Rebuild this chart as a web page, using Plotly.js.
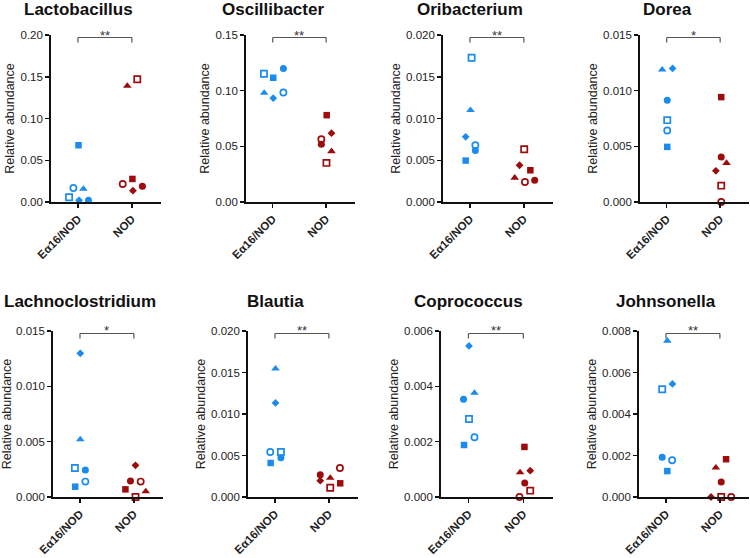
<!DOCTYPE html>
<html><head><meta charset="utf-8">
<script src="https://cdn.plot.ly/plotly-3.0.1.min.js"></script>
<style>html,body{margin:0;padding:0;background:#fff}#chart{width:750px;height:558px}</style>
</head><body><div id="chart"></div>
<script>
// Group labels
const groups = ['Eα16/NOD', 'NOD'];
const genera = ['Lactobacillus', 'Oscillibacter', 'Oribacterium', 'Dorea',
                'Lachnoclostridium', 'Blautia', 'Coprococcus', 'Johnsonella'];
const significance = ['**', '**', '**', '*', '*', '**', '**', '**'];
const yMax = [0.20, 0.15, 0.020, 0.015, 0.015, 0.020, 0.006, 0.008];
const yStep = [0.05, 0.05, 0.005, 0.005, 0.005, 0.005, 0.002, 0.002];
const yFormat = ['.2f', '.2f', '.3f', '.3f', '.3f', '.3f', '.3f', '.3f'];

// Order of each value array: filled square, filled circle, filled triangle,
// filled diamond, open circle, open square (one mouse each)
const lactobacillusE = [0.068, 0.002, 0.0156, 0.002, 0.0168, 0.0056];
const lactobacillusN = [0.0276, 0.019, 0.139, 0.0136, 0.0216, 0.147];
const oscillibacterE = [0.1116, 0.120, 0.098, 0.0933, 0.0984, 0.1152];
const oscillibacterN = [0.078, 0.0519, 0.0455, 0.0618, 0.0564, 0.0351];
const oribacteriumE = [0.00496, 0.00616, 0.011, 0.0078, 0.0068, 0.01728];
const oribacteriumN = [0.0038, 0.0026, 0.0029, 0.0044, 0.0024, 0.00632];
const doreaE = [0.00495, 0.00915, 0.01188, 0.012, 0.00642, 0.00735];
const doreaN = [0.00942, 0.00405, 0.0035, 0.0028, 0.0, 0.00147];
const lachnoclostridiumE = [0.00093, 0.00244, 0.0052, 0.01298, 0.00139, 0.00262];
const lachnoclostridiumN = [0.00069, 0.00145, 0.0005, 0.00286, 0.00139, 0.0];
const blautiaE = [0.0041, 0.00474, 0.01546, 0.01133, 0.00542, 0.00542];
const blautiaN = [0.00165, 0.00269, 0.0023, 0.00197, 0.0035, 0.00112];
const coprococcusE = [0.00188, 0.00353, 0.00376, 0.00546, 0.00216, 0.00282];
const coprococcusN = [0.00181, 0.00051, 0.00089, 0.00095, 0.0, 0.00023];
const johnsonellaE = [0.00125, 0.00191, 0.00753, 0.00545, 0.00177, 0.00519];
const johnsonellaN = [0.00182, 0.00072, 0.00141, 0.0, 0.0, 0.0];

// Horizontal scatter offsets of each dot (fraction of the group spacing)
const lactobacillusJE = [0.01, 0.195, 0.10, 0.02, -0.085, -0.165];
const lactobacillusJN = [0.01, 0.195, -0.085, 0.02, -0.17, 0.10];
const oscillibacterJE = [0.01, 0.20, -0.16, 0.01, 0.20, -0.164];
const oscillibacterJN = [0.01, -0.09, 0.10, 0.10, -0.09, 0.006];
const oribacteriumJE = [-0.08, 0.10, 0.01, -0.08, 0.10, 0.03];
const oribacteriumJN = [0.12, 0.20, -0.17, -0.08, 0.02, 0.006];
const doreaJE = [0.01, 0.01, -0.085, 0.11, 0.01, 0.01];
const doreaJN = [0.02, 0.02, 0.12, -0.08, 0.02, 0.02];
const lachnoclostridiumJE = [-0.088, 0.10, 0.006, 0.006, 0.10, -0.094];
const lachnoclostridiumJN = [-0.157, -0.063, 0.22, 0.03, 0.126, 0.03];
const blautiaJE = [-0.08, 0.11, 0.01, 0.01, -0.087, 0.11];
const blautiaJN = [0.21, -0.16, 0.025, -0.16, 0.205, 0.025];
const coprococcusJE = [-0.08, -0.09, 0.11, 0.01, 0.11, 0.01];
const coprococcusJN = [0.02, 0.025, -0.06, 0.125, -0.07, 0.125];
const johnsonellaJE = [0.025, -0.07, 0.025, 0.12, 0.115, -0.07];
const johnsonellaJN = [0.115, 0.025, -0.075, -0.165, 0.21, 0.025];

const valuesE = [lactobacillusE, oscillibacterE, oribacteriumE, doreaE,
                 lachnoclostridiumE, blautiaE, coprococcusE, johnsonellaE];
const valuesN = [lactobacillusN, oscillibacterN, oribacteriumN, doreaN,
                 lachnoclostridiumN, blautiaN, coprococcusN, johnsonellaN];
const jitterE = [lactobacillusJE, oscillibacterJE, oribacteriumJE, doreaJE,
                 lachnoclostridiumJE, blautiaJE, coprococcusJE, johnsonellaJE];
const jitterN = [lactobacillusJN, oscillibacterJN, oribacteriumJN, doreaJN,
                 lachnoclostridiumJN, blautiaJN, coprococcusJN, johnsonellaJN];

// ---- styling / layout ----
const W = 750, H = 558;
const BLUE = '#1a8cf0', RED = '#9e0b0b';
const symbols = ['square', 'circle', 'triangle-up', 'diamond', 'circle-open', 'square-open'];
const sizes = [6.5, 7, 7.5, 6, 6.2, 6.2];
const lineW = [0, 0, 0, 0, 1.7, 1.7];
const xPix = [[51,161],[246,355],[443,553],[640,749],[53,163],[248,358],[441,553],[639,749]];
const yPix = [[35,202],[35,202],[35,202],[35,202],[331,497],[331,497],[331,497],[331,497]];
const titleY = [10, 10, 10, 10, 301, 301, 301, 301];
const FONT = 'Liberation Sans, Arial, sans-serif';

const data = [];
const layout = {
  width: W, height: H, margin: {l:0, r:0, t:0, b:0},
  paper_bgcolor: '#fff', plot_bgcolor: 'rgba(0,0,0,0)',
  showlegend: false, font: {family: FONT, color: '#222'},
  shapes: [], annotations: []
};

for (let i = 0; i < 8; i++) {
  const n = i + 1;
  const xa = 'x' + (n === 1 ? '' : n), ya = 'y' + (n === 1 ? '' : n);
  [[valuesE[i], jitterE[i], 0, BLUE], [valuesN[i], jitterN[i], 1, RED]].forEach(([vals, jit, g, col]) => {
    data.push({
      type: 'scatter', mode: 'markers', xaxis: xa, yaxis: ya, cliponaxis: false,
      x: jit.map(d => g + d), y: vals,
      marker: {symbol: symbols, size: sizes, color: col, opacity: 1, line: {color: col, width: lineW}},
      hoverinfo: 'y'
    });
  });
  layout['xaxis' + (n === 1 ? '' : n)] = {
    domain: [xPix[i][0] / W, xPix[i][1] / W], anchor: ya,
    range: [-0.5, 1.54], tickvals: [0, 1], ticktext: groups.map(g => '<b>' + g + '</b>'),
    tickangle: -45, tickfont: {size: 11.5, family: FONT, color: '#222'},
    showline: true, linecolor: '#111', linewidth: 1.8, ticks: 'outside', ticklen: 4,
    tickwidth: 1.5, tickcolor: '#111', showgrid: false, zeroline: false, fixedrange: true
  };
  layout['yaxis' + (n === 1 ? '' : n)] = {
    domain: [1 - yPix[i][1] / H, 1 - yPix[i][0] / H], anchor: xa,
    range: [0, yMax[i]], dtick: yStep[i], tick0: 0, tickformat: yFormat[i],
    tickfont: {size: 11.5, family: FONT, color: '#222'},
    showline: true, linecolor: '#111', linewidth: 1.8, ticks: 'outside', ticklen: 4,
    tickwidth: 1.5, tickcolor: '#111', showgrid: false, zeroline: false, fixedrange: true,
    title: {text: 'Relative abundance', font: {size: 12.5, family: FONT, color: '#222'}, standoff: 3}
  };
  // significance bracket
  const ln = {color: '#555', width: 1.2};
  layout.shapes.push(
    {type: 'line', xref: xa, yref: ya + ' domain', x0: 0, x1: 1, y0: 0.985, y1: 0.985, line: ln},
    {type: 'line', xref: xa, yref: ya + ' domain', x0: 0, x1: 0, y0: 0.985, y1: 0.955, line: ln},
    {type: 'line', xref: xa, yref: ya + ' domain', x0: 1, x1: 1, y0: 0.985, y1: 0.955, line: ln}
  );
  layout.annotations.push({
    xref: xa, yref: ya + ' domain', x: 0.5, y: 0.985, yanchor: 'bottom', yshift: -7,
    text: significance[i], showarrow: false, font: {size: 13, family: FONT, color: '#333'}
  });
  layout.annotations.push({
    xref: 'paper', yref: 'paper', x: (xPix[i][0] + 27) / W, y: 1 - titleY[i] / H,
    xanchor: 'center', yanchor: 'middle', text: '<b>' + genera[i] + '</b>', showarrow: false,
    font: {size: 17, family: FONT, color: '#111'}
  });
}

Plotly.newPlot('chart', data, layout, {displayModeBar: false, staticPlot: true});
</script>
</body></html>
